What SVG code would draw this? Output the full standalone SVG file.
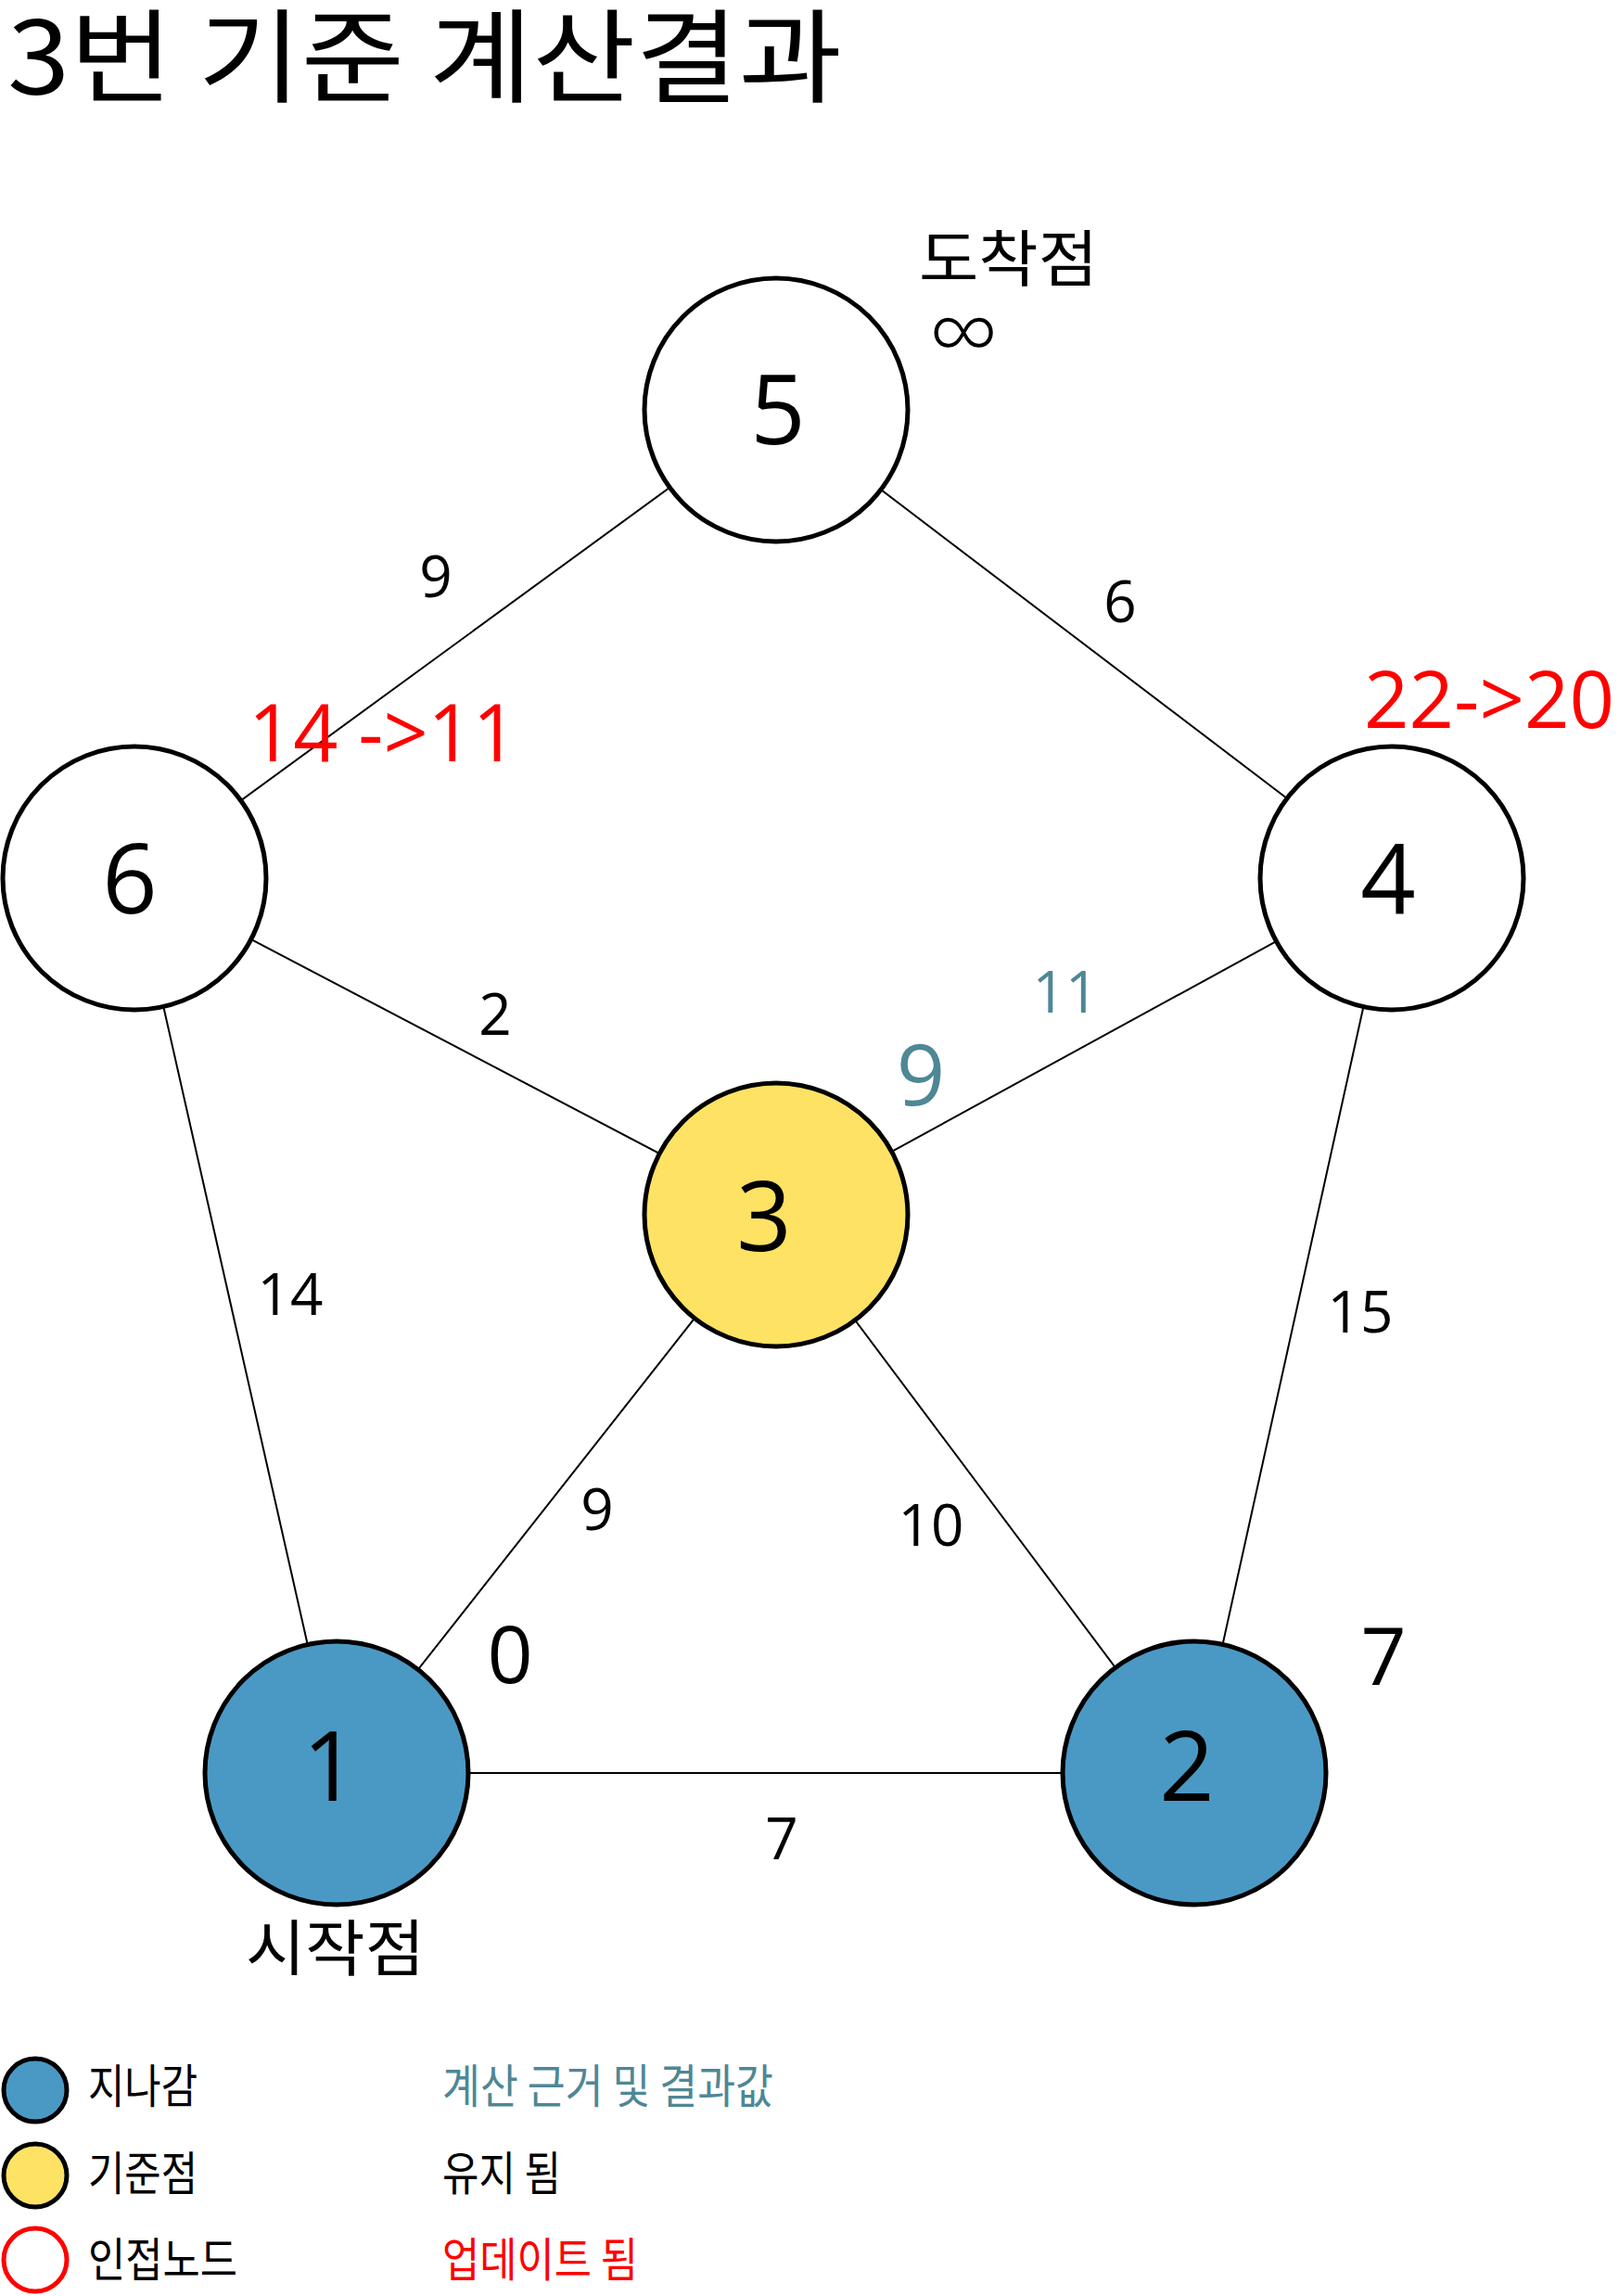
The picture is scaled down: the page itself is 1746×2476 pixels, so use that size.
<svg xmlns="http://www.w3.org/2000/svg" width="1746" height="2476" viewBox="0 0 1746 2476">
<style>
.edge{stroke:#000;stroke-width:2;fill:none}
.node{stroke:#000;stroke-width:5}
.white{fill:#fff}
.blue{fill:#4a99c4}
.yellow{fill:#fde264}
.num{font-family:"Open Sans","Noto Sans",sans-serif;fill:#000}
.nlabel{font-size:104px;text-anchor:middle}
.elabel{font-size:62px;text-anchor:middle}
.kr{font-family:"Noto Sans CJK KR","Noto Sans",sans-serif;fill:#000}
.teal{fill:#4e8796}
.red{fill:#ff0000}
</style>
<rect width="1746" height="2476" fill="#fff"/>
<text class="kr" x="8" y="102" font-size="110" textLength="900" lengthAdjust="spacingAndGlyphs">3번 기준 계산결과</text>
<g id="connectors">
<line class="edge" x1="145" y1="947" x2="837" y2="442"/>
<line class="edge" x1="837" y1="442" x2="1501" y2="947"/>
<line class="edge" x1="145" y1="947" x2="837" y2="1310"/>
<line class="edge" x1="1501" y1="947" x2="837" y2="1310"/>
<line class="edge" x1="145" y1="947" x2="363" y2="1912"/>
<line class="edge" x1="1501" y1="947" x2="1288" y2="1912"/>
<line class="edge" x1="837" y1="1310" x2="363" y2="1912"/>
<line class="edge" x1="837" y1="1310" x2="1288" y2="1912"/>
<line class="edge" x1="363" y1="1912" x2="1288" y2="1912"/>
<text class="num elabel" x="470" y="644">9</text>
<text class="num elabel" x="1208" y="671">6</text>
<text class="num elabel" x="534" y="1116">2</text>
<text class="num elabel teal" x="1149" y="1092">11</text>
<text class="num elabel" x="313" y="1418">14</text>
<text class="num elabel" x="1467" y="1437">15</text>
<text class="num elabel" x="644" y="1650">9</text>
<text class="num elabel" x="1004" y="1667">10</text>
<text class="num elabel" x="843" y="2005">7</text>
</g>
<g id="node5">
<circle class="node white" cx="837" cy="442" r="142"/>
<text class="num nlabel" x="839" y="479">5</text>
<text class="kr" x="991" y="303" font-size="66" textLength="193" lengthAdjust="spacingAndGlyphs">도착점</text>
<text class="num" x="1039" y="396" font-size="106" font-weight="300" text-anchor="middle">∞</text>
</g>
<g id="node6">
<circle class="node white" cx="145" cy="947" r="142"/>
<text class="num nlabel" x="140" y="985">6</text>
<text class="num red" x="268" y="821" font-size="86" textLength="290" lengthAdjust="spacingAndGlyphs">14 -&gt;11</text>
</g>
<g id="node4">
<circle class="node white" cx="1501" cy="947" r="142"/>
<text class="num nlabel" x="1497" y="985">4</text>
<text class="num red" x="1471" y="785" font-size="86" textLength="270" lengthAdjust="spacingAndGlyphs">22-&gt;20</text>
</g>
<g id="node3">
<circle class="node yellow" cx="837" cy="1310" r="142"/>
<text class="num nlabel" x="824" y="1349">3</text>
<text class="num teal" x="993" y="1192" font-size="92" text-anchor="middle">9</text>
</g>
<g id="node1">
<circle class="node blue" cx="363" cy="1912" r="142"/>
<text class="num nlabel" x="356" y="1942">1</text>
<text class="num" x="550" y="1815" font-size="86" text-anchor="middle">0</text>
<text class="kr" x="265" y="2125" font-size="66" textLength="193" lengthAdjust="spacingAndGlyphs">시작점</text>
</g>
<g id="node2">
<circle class="node blue" cx="1288" cy="1912" r="142"/>
<text class="num nlabel" x="1280" y="1942">2</text>
<text class="num" x="1492" y="1817" font-size="86" text-anchor="middle">7</text>
</g>
<g id="legend">
<circle class="node blue" cx="38" cy="2254" r="34"/>
<circle class="node yellow" cx="38" cy="2346" r="34"/>
<circle cx="38" cy="2437" r="34" fill="none" stroke="#ff0000" stroke-width="5"/>
<text class="kr" x="95" y="2268" font-size="50" textLength="118" lengthAdjust="spacingAndGlyphs">지나감</text>
<text class="kr" x="95" y="2362" font-size="50" textLength="118" lengthAdjust="spacingAndGlyphs">기준점</text>
<text class="kr" x="95" y="2455" font-size="50" textLength="161" lengthAdjust="spacingAndGlyphs">인접노드</text>
<text class="kr teal" x="477" y="2268" font-size="50" textLength="357" lengthAdjust="spacingAndGlyphs">계산 근거 및 결과값</text>
<text class="kr" x="477" y="2362" font-size="50" textLength="128" lengthAdjust="spacingAndGlyphs">유지 됨</text>
<text class="kr red" x="477" y="2455" font-size="50" textLength="211" lengthAdjust="spacingAndGlyphs">업데이트 됨</text>
</g>
</svg>
